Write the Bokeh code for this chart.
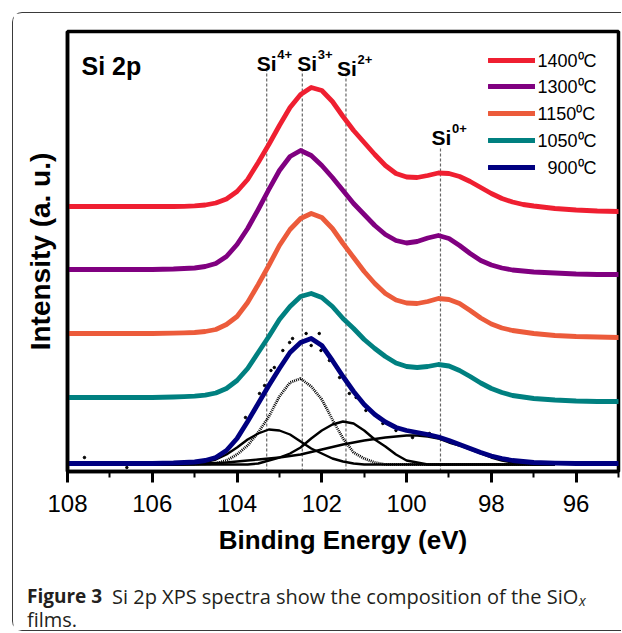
from bokeh.plotting import figure
from bokeh.layouts import column, row
from bokeh.models import (Range1d, SingleIntervalTicker, FixedTicker, Label, Legend,
                          LegendItem)
from bokeh.embed import file_html
from bokeh.resources import INLINE

# ---------------- data ----------------
energy = [108, 107, 106, 105.5, 105.25, 105, 104.75, 104.5, 104.25, 104, 103.75, 103.5,
          103.25, 103, 102.75, 102.5, 102.25, 102, 101.75, 101.5, 101.25, 101, 100.75,
          100.5, 100.25, 100, 99.75, 99.5, 99.25, 99, 98.75, 98.5, 98.25, 98, 97.75, 97.5,
          97.25, 97, 96.5, 96, 95.5, 95]

i_1400 = [265, 265, 265, 265, 265.2, 265.6, 266.5, 268.5, 272.5, 280, 292, 309, 327, 346,
          364, 377, 384, 381, 370, 355, 341, 329, 317, 306, 298, 294.5, 294, 296, 298.5,
          298, 295, 290, 284, 278, 273, 269.5, 267, 265.5, 263, 261.5, 260.5, 260]
i_1300 = [202, 202, 202, 202.5, 203, 203.5, 205, 208, 215, 227, 243, 262, 282, 301, 315,
          321, 316, 306, 294, 281, 268, 257, 246, 237, 231, 228.5, 230, 233.5, 236, 233,
          226, 218, 211, 206.5, 203.5, 201.5, 200.5, 199.5, 198.5, 197.5, 197, 197]
i_1150 = [138, 138, 138, 138.3, 138.6, 139, 140, 142, 147, 155, 169, 187, 206, 226, 242,
          253, 258, 254, 243, 228, 214, 200, 188, 178, 171.5, 168.5, 168, 170, 173, 172,
          168, 161, 153.5, 147.5, 143.5, 141, 139.5, 138, 136, 135, 134.5, 134]
i_1050 = [74, 74, 74, 74.5, 74.8, 75.3, 76.3, 78.5, 83, 91, 103, 119, 135, 152, 165, 175,
          178, 174, 165, 153, 143, 132, 123, 115, 108.5, 105, 104, 105, 107, 105.5, 101,
          95, 88.5, 83, 79, 76, 74.5, 73, 71.5, 70.5, 70, 70]
i_900 = [8, 8, 8, 8.5, 9, 9.5, 11, 14, 21, 33, 50, 68, 86, 103, 119, 129, 133, 126, 111,
         95, 80, 67, 57, 49.5, 44, 41, 39, 37, 34.5, 31, 27, 23, 19, 15.5, 13, 11, 10, 9,
         8.3, 8, 8, 8]

# fitted components of the 900 C spectrum (on energy[:39])
fit_si4 = [7, 7, 7, 7, 7.5, 8, 9.5, 12, 17, 24, 32, 38, 42, 41, 37, 30, 23, 18, 13, 10,
           8, 7, 7, 7, 7, 7, 7, 7, 7, 7, 7, 7, 7, 7, 7, 7, 7, 7, 7]
fit_si3 = [7, 7, 7, 7, 7, 7, 7.5, 8, 11, 17, 26, 39, 55, 75, 89, 93, 85, 72, 52, 33, 19,
           13, 9, 7, 7, 7, 7, 7, 7, 7, 7, 7, 7, 7, 7, 7, 7, 7, 7]
fit_si2 = [7, 7, 7, 7, 7, 7, 7, 7, 7, 7, 7, 8, 11, 14, 18, 24, 33, 41, 47, 50, 48, 41, 32,
           25, 17, 11, 9, 7, 7, 7, 7, 7, 7, 7, 7, 7, 7, 7, 7]
fit_si0 = [7, 7, 7, 7, 7.2, 7.5, 8, 8.5, 9, 10, 11, 12, 13, 14, 15.5, 17, 19.5, 22, 24.5,
           27, 29, 31, 32.5, 34, 35, 36, 36, 35, 33, 29, 26, 22, 18, 14, 11, 9, 8, 7, 7]

raw_e = [107.6, 106.6, 103.8, 103.63, 103.47, 103.35, 103.2, 103.12, 102.92, 102.76,
         102.69, 102.37, 102.25, 102.06, 102.02, 101.82, 101.58, 101.35, 101.19, 100.96,
         100.56, 100.25, 99.86, 99.46]
raw_i = [14, 4, 54, 59, 78, 86, 101, 104, 121, 129, 133, 138, 126, 138, 121, 111, 94, 78,
         74, 61, 48, 41, 34, 38]

peak_names = ["4+", "3+", "2+", "0+"]
peak_pos = [103.3, 102.46, 101.43, 99.2]

labels = ["1400\u2070C", "1300\u2070C", "1150\u2070C", "1050\u2070C", "\u2007900\u2070C"]
colors = ["#EF1F31", "#800080", "#EC5B3B", "#008080", "#000080"]
series = [i_1400, i_1300, i_1150, i_1050, i_900]

AX_FONT = "Liberation Sans"
CAP = "Open Sans"
CAP_COLOR = "#231f20"

# ---------------- main figure ----------------
p = figure(width=608, height=546, x_range=Range1d(108, 95), y_range=Range1d(0, 440),
           output_backend="svg", toolbar_location=None,
           min_border_left=54, min_border_right=3, min_border_top=18, min_border_bottom=88)
p.background_fill_color = "white"
p.border_fill_color = "white"
p.grid.visible = False
p.outline_line_color = "black"
p.outline_line_width = 3.5

xa = p.xaxis[0]
xa.ticker = SingleIntervalTicker(interval=2, num_minor_ticks=2)
xa.axis_line_width = 3.5
xa.major_tick_line_width = 3
xa.major_tick_out = 11
xa.major_tick_in = 0
xa.minor_tick_line_width = 2
xa.minor_tick_out = 6
xa.minor_tick_in = 0
xa.major_label_text_font = AX_FONT
xa.major_label_text_font_size = "24px"
xa.major_label_text_color = "black"
xa.major_label_standoff = 12
xa.axis_label = "Binding Energy (eV)"
xa.axis_label_text_font = AX_FONT
xa.axis_label_text_font_size = "26px"
xa.axis_label_text_font_style = "bold"
xa.axis_label_text_color = "black"
xa.axis_label_standoff = 10

ya = p.yaxis[0]
ya.ticker = FixedTicker(ticks=[])
ya.major_tick_line_color = None
ya.minor_tick_line_color = None
ya.major_label_text_font_size = "0px"
ya.major_label_standoff = 0
ya.axis_line_width = 3.5
ya.axis_label = "Intensity (a. u.)"
ya.axis_label_text_font = AX_FONT
ya.axis_label_text_font_size = "28px"
ya.axis_label_text_font_style = "bold"
ya.axis_label_text_color = "black"
ya.axis_label_standoff = 12

# dashed reference lines at the peak positions
dash_tops = [401, 401, 401, 323]
p.segment(x0=peak_pos, x1=peak_pos, y0=[0] * 4, y1=dash_tops,
          line_color="#666666", line_width=1.2, line_dash="3 2")

# fitted components
ec = energy[:39]
p.line(ec, fit_si0, line_color="black", line_width=2.4, line_join="round")
p.line(ec, fit_si2, line_color="black", line_width=2.4, line_join="round")
p.line(ec, fit_si4, line_color="black", line_width=2.4, line_join="round")
p.line(ec, fit_si3, line_color="black", line_width=2.8, line_dash="1 1")
p.scatter(raw_e, raw_i, size=2.5, color="black", marker="circle")

# spectra, each with its own one-row legend (row centres fixed on screen)
legend_bottoms = [396.5, 370, 343.5, 316.5, 289.5]
for lab, col, ser, yb in zip(labels, colors, series, legend_bottoms):
    r = p.line(energy, ser, line_color=col, line_width=4.8, line_cap="round",
               line_join="round")
    lg = Legend(items=[LegendItem(label=lab, renderers=[r])], location=(420.5, yb),
                glyph_width=47, glyph_height=30, label_height=30, spacing=0,
                padding=0, margin=0, label_standoff=3, border_line_color=None,
                background_fill_alpha=0, label_text_font=AX_FONT,
                label_text_font_size="18px", label_text_color="black")
    p.add_layout(lg)

# peak labels
si_off = [-10, -5, -9, -9]
si_base = [408, 408, 403, 334]
for name, pos, off, base in zip(peak_names, peak_pos, si_off, si_base):
    p.add_layout(Label(x=pos, y=base, x_units="data", y_units="screen", x_offset=off,
                       text="Si", text_font=AX_FONT, text_font_size="21px",
                       text_font_style="bold", text_baseline="alphabetic",
                       text_align="left", text_color="black"))
    p.add_layout(Label(x=pos, y=base + 9, x_units="data", y_units="screen",
                       x_offset=off + 20.5, text=name, text_font=AX_FONT,
                       text_font_size="13px", text_font_style="bold",
                       text_baseline="alphabetic", text_align="left",
                       text_color="black"))

p.add_layout(Label(x=14, y=406, x_units="screen", y_units="screen", text="Si 2p",
                   text_font=AX_FONT, text_font_size="25px", text_font_style="bold",
                   text_baseline="alphabetic", text_color="black"))

# ---------------- caption ----------------
cap = figure(width=608, height=71, x_range=Range1d(0, 608), y_range=Range1d(0, 71),
             output_backend="svg", toolbar_location=None, min_border=0)
cap.axis.visible = False
cap.grid.visible = False
cap.outline_line_color = None
cap.background_fill_color = "white"
cap.border_fill_color = "white"
cap.add_layout(Label(x=13.5, y=34.5, text="Figure 3", text_font=CAP,
                     text_font_size="19px", text_font_style="bold",
                     text_baseline="alphabetic", text_color=CAP_COLOR))
cap.add_layout(Label(x=98.5, y=34.5,
                     text="Si 2p XPS spectra show the composition of the SiO",
                     text_font=CAP, text_font_size="20px",
                     text_baseline="alphabetic", text_color=CAP_COLOR))
cap.add_layout(Label(x=565.5, y=30.5, text="x", text_font=CAP, text_font_size="14px",
                     text_font_style="italic", text_baseline="alphabetic",
                     text_color=CAP_COLOR))
cap.add_layout(Label(x=13.5, y=11, text="films.", text_font=CAP, text_font_size="20px",
                     text_baseline="alphabetic", text_color=CAP_COLOR))

layout = column(p, row(cap), spacing=0, styles={
    "box-sizing": "content-box",
    "margin-left": "12px", "margin-top": "12px",
    "border-left": "1.5px solid #3a3a3a", "border-top": "1.5px solid #3a3a3a",
    "border-bottom": "1.5px solid #3a3a3a",
    "border-top-left-radius": "10px", "border-bottom-left-radius": "10px",
    "background-color": "white"})

open("out.html", "w").write(file_html(layout, INLINE))
